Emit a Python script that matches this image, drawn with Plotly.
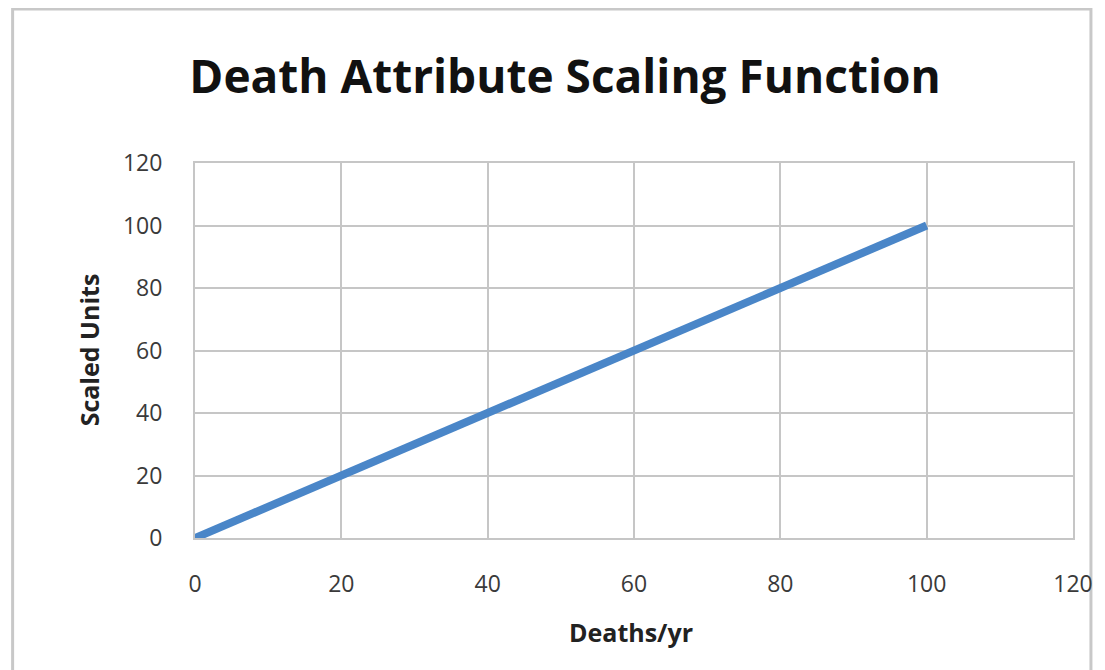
import plotly.graph_objects as go

deaths = [0, 100]
scaled = [0, 100]
x_ticks = [0, 20, 40, 60, 80, 100, 120]
y_ticks = [0, 20, 40, 60, 80, 100, 120]

OFF = 8  # page body margin
W, H = 1105 - OFF, 670 - OFF
# plot area in screen pixels: x 195..1076, y 163..538
L = 195 - OFF
T = 163 - OFF
pw = 1076 - 195
ph = 538 - 163
R = W - L - pw
B = H - T - ph

def px(xs):
    return (xs - OFF - L) / pw

def py(ys):
    return (T + ph - (ys - OFF)) / ph

fig = go.Figure()
fig.add_trace(go.Scatter(x=deaths, y=scaled, mode="lines",
                         line=dict(color="#4a86c8", width=8), showlegend=False))

grid = "#c6c6c6"
FONT = "Open Sans"
fig.update_layout(
    width=W, height=H,
    margin=dict(l=L, r=R, t=T, b=B),
    paper_bgcolor="white", plot_bgcolor="white",
    title=dict(text="<b>Death Attribute Scaling Function</b>", x=(565 - OFF) / W, xanchor="center",
               y=1 - (77 - OFF) / H, yanchor="middle",
               font=dict(family=FONT, size=46, color="#111111")),
    xaxis=dict(range=[0, 120], tickvals=x_ticks, ticktext=[str(v) for v in x_ticks],
               showgrid=True, gridcolor=grid, gridwidth=2, zeroline=False,
               showline=True, linecolor=grid, linewidth=2, mirror=True,
               ticks="", ticklabelstandoff=24,
               tickfont=dict(family=FONT, size=23, color="#3a3a3a")),
    yaxis=dict(range=[0, 120], tickvals=y_ticks, ticktext=[str(v) for v in y_ticks],
               showgrid=True, gridcolor=grid, gridwidth=2, zeroline=False,
               showline=True, linecolor=grid, linewidth=2, mirror=True,
               ticks="", ticklabelstandoff=26,
               tickfont=dict(family=FONT, size=23, color="#3a3a3a")),
    annotations=[
        dict(text="<b>Deaths/yr</b>", xref="paper", yref="paper", x=px(632), y=py(632),
             xanchor="center", yanchor="middle", showarrow=False,
             font=dict(family=FONT, size=25, color="#222222")),
        dict(text="<b>Scaled Units</b>", xref="paper", yref="paper", x=px(89), y=py(350),
             xanchor="center", yanchor="middle", showarrow=False, textangle=-90,
             font=dict(family=FONT, size=25, color="#222222")),
    ],
)

# outer chart border
fig.add_shape(type="rect", xref="paper", yref="paper",
              x0=px(12), x1=px(1094), y0=py(690), y1=py(9),
              line=dict(color="#c8c8c8", width=3), layer="below")

fig.write_html("out.html")
